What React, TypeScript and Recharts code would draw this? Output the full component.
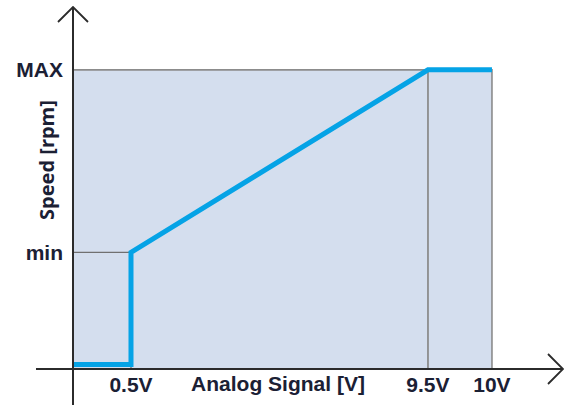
import React from 'react';
import {
  ComposedChart,
  Line,
  XAxis,
  YAxis,
  ReferenceArea,
  ReferenceLine,
} from 'recharts';

// ---- data ----
const SIGNAL_V = [0, 0.5, 0.5, 9.5, 10];
const SPEED = [1.5, 1.5, 39, 100, 100];
const SPEED_MIN = 39;
const SPEED_MAX = 100;
const SIGNAL_MAX = 10;
const X_TICKS = [0.5, 9.5, 10];
const X_TICK_LABELS = ['0.5V', '9.5V', '10V'];
const Y_TICKS = [SPEED_MIN, SPEED_MAX];
const Y_TICK_LABELS = ['min', 'MAX'];
const X_TITLE = 'Analog Signal [V]';
const Y_TITLE = 'Speed [rpm]';

const data = SIGNAL_V.map((v, i) => ({ v, speed: SPEED[i] }));

// ---- schematic (non-proportional) x scale: warp knots ----
const WARP_KNOTS = [0, 0.5, 9.5, 10];
const WARP_POS = [0, 58, 355, 419];
const X_DOMAIN: [number, number] = [0, 10.555];
const X_AXIS_START = -0.319;
const Y_DOMAIN: [number, number] = [0, 121];
const Y_AXIS_START = -12;

function warp(v: number): number {
  const k = WARP_KNOTS;
  const p = WARP_POS;
  const n = k.length;
  if (v <= k[0]) return p[0] + (v - k[0]) * ((p[1] - p[0]) / (k[1] - k[0]));
  if (v >= k[n - 1])
    return p[n - 1] + (v - k[n - 1]) * ((p[n - 1] - p[n - 2]) / (k[n - 1] - k[n - 2]));
  for (let i = 0; i < n - 1; i++) {
    if (v >= k[i] && v <= k[i + 1]) {
      return p[i] + ((v - k[i]) / (k[i + 1] - k[i])) * (p[i + 1] - p[i]);
    }
  }
  return 0;
}

function unwarp(u: number): number {
  const k = WARP_KNOTS;
  const p = WARP_POS;
  const n = k.length;
  if (u <= p[0]) return k[0] + (u - p[0]) * ((k[1] - k[0]) / (p[1] - p[0]));
  if (u >= p[n - 1])
    return k[n - 1] + (u - p[n - 1]) * ((k[n - 1] - k[n - 2]) / (p[n - 1] - p[n - 2]));
  for (let i = 0; i < n - 1; i++) {
    if (u >= p[i] && u <= p[i + 1]) {
      return k[i] + ((u - p[i]) / (p[i + 1] - p[i])) * (k[i + 1] - k[i]);
    }
  }
  return 0;
}

function makeWarpScale(): any {
  let dom: number[] = [0, 1];
  let rng: number[] = [0, 1];
  const s: any = (v: number) => {
    const a = warp(dom[0]);
    const b = warp(dom[dom.length - 1]);
    return rng[0] + ((warp(Number(v)) - a) / (b - a)) * (rng[rng.length - 1] - rng[0]);
  };
  s.domain = (d?: any[]) => {
    if (d === undefined) return dom.slice();
    dom = d.map(Number);
    return s;
  };
  s.range = (r?: any[]) => {
    if (r === undefined) return rng.slice();
    rng = r.map(Number);
    return s;
  };
  s.copy = () => makeWarpScale().domain(dom).range(rng);
  s.ticks = () => X_TICKS.slice();
  s.tickFormat = () => (v: any) => String(v);
  s.nice = () => s;
  s.clamp = () => s;
  s.unknown = () => s;
  s.invert = (px: number) => {
    const a = warp(dom[0]);
    const b = warp(dom[dom.length - 1]);
    const u = a + ((px - rng[0]) / (rng[rng.length - 1] - rng[0])) * (b - a);
    return unwarp(u);
  };
  return s;
}

const xScale = makeWarpScale();

const TEXT_COLOR = '#1b2034';
const AXIS_COLOR = '#2b2b2b';
const GRID_COLOR = '#8c8c8c';
const LINE_COLOR = '#05a3e6';
const FILL_COLOR = '#d4deee';
const LABEL_FONT = 'Liberation Sans, Arial, sans-serif';

const XTitle = (props: any) => {
  const vb = props.viewBox || { x: 0, y: 0, width: 0, height: 0 };
  return (
    <text
      x={vb.x + 205}
      y={vb.y + 22}
      textAnchor="middle"
      fontFamily={LABEL_FONT}
      fontWeight="bold"
      fontSize={21}
      fill={TEXT_COLOR}
    >
      {X_TITLE}
    </text>
  );
};

const YTitle = (props: any) => {
  const vb = props.viewBox || { x: 0, y: 0, width: 0, height: 0 };
  const cx = vb.x + 33;
  const cy = vb.y + 153;
  return (
    <text
      x={cx}
      y={cy}
      transform={`rotate(-90, ${cx}, ${cy})`}
      textAnchor="middle"
      dominantBaseline="central"
      fontFamily="Open Sans, sans-serif"
      fontWeight="bold"
      fontSize={20}
      fill={TEXT_COLOR}
    >
      {Y_TITLE}
    </text>
  );
};

export default function App() {
  return (
    <div style={{ position: 'absolute', left: 0, top: 0, width: 574, height: 405, background: '#fff' }}>
      <ComposedChart
        width={574}
        height={405}
        data={data}
        margin={{ top: 7, right: 11, bottom: 0, left: 13 }}
      >
        <defs>
          <marker
            id="axisArrow"
            viewBox="0 0 17 32"
            refX="16"
            refY="16"
            markerWidth="17"
            markerHeight="32"
            markerUnits="userSpaceOnUse"
            orient="auto"
          >
            <path d="M1,1 L16,16 L1,31" fill="none" stroke={AXIS_COLOR} strokeWidth={1.8} />
          </marker>
        </defs>
        <XAxis
          dataKey="v"
          type="number"
          scale={xScale}
          domain={X_DOMAIN}
          allowDataOverflow
          ticks={X_TICKS}
          tickFormatter={(v: number) => X_TICK_LABELS[X_TICKS.indexOf(v)] ?? ''}
          axisLine={false}
          tickLine={false}
          tickSize={0}
          tickMargin={8}
          height={36}
          interval={0}
          tick={{ fill: TEXT_COLOR, fontSize: 21, fontWeight: 'bold', fontFamily: LABEL_FONT }}
          label={{ content: XTitle }}
        />
        <YAxis
          type="number"
          domain={Y_DOMAIN}
          allowDataOverflow
          ticks={Y_TICKS}
          tickFormatter={(v: number) => Y_TICK_LABELS[Y_TICKS.indexOf(v)] ?? ''}
          axisLine={false}
          tickLine={false}
          tickSize={0}
          tickMargin={10}
          width={60}
          interval={0}
          tick={{ fill: TEXT_COLOR, fontSize: 21, fontWeight: 'bold', fontFamily: LABEL_FONT }}
          label={{ content: YTitle }}
        />
        <ReferenceArea
          x1={0}
          x2={SIGNAL_MAX}
          y1={0}
          y2={SPEED_MAX}
          fill={FILL_COLOR}
          fillOpacity={1}
          stroke={GRID_COLOR}
          strokeWidth={1.6}
          ifOverflow="visible"
        />
        <ReferenceLine
          segment={[{ x: 0, y: SPEED_MIN }, { x: X_TICKS[0], y: SPEED_MIN }]}
          stroke="#707070"
          strokeWidth={1.3}
          ifOverflow="visible"
        />
        <ReferenceLine
          segment={[{ x: X_TICKS[0], y: 0 }, { x: X_TICKS[0], y: SPEED_MIN }]}
          stroke="#707070"
          strokeWidth={1.3}
          ifOverflow="visible"
        />
        <ReferenceLine
          segment={[{ x: X_TICKS[1], y: 0 }, { x: X_TICKS[1], y: SPEED_MAX }]}
          stroke={GRID_COLOR}
          strokeWidth={1.8}
          ifOverflow="visible"
        />
        <Line
          dataKey="speed"
          type="linear"
          stroke={LINE_COLOR}
          strokeWidth={5}
          strokeLinejoin="miter"
          dot={false}
          activeDot={false}
          isAnimationActive={false}
        />
        <ReferenceLine
          segment={[{ x: X_AXIS_START, y: 0 }, { x: X_DOMAIN[1], y: 0 }]}
          stroke={AXIS_COLOR}
          strokeWidth={2}
          markerEnd="url(#axisArrow)"
          ifOverflow="visible"
        />
        <ReferenceLine
          segment={[{ x: 0, y: Y_AXIS_START }, { x: 0, y: Y_DOMAIN[1] }]}
          stroke={AXIS_COLOR}
          strokeWidth={2}
          markerEnd="url(#axisArrow)"
          ifOverflow="visible"
        />
      </ComposedChart>
    </div>
  );
}
